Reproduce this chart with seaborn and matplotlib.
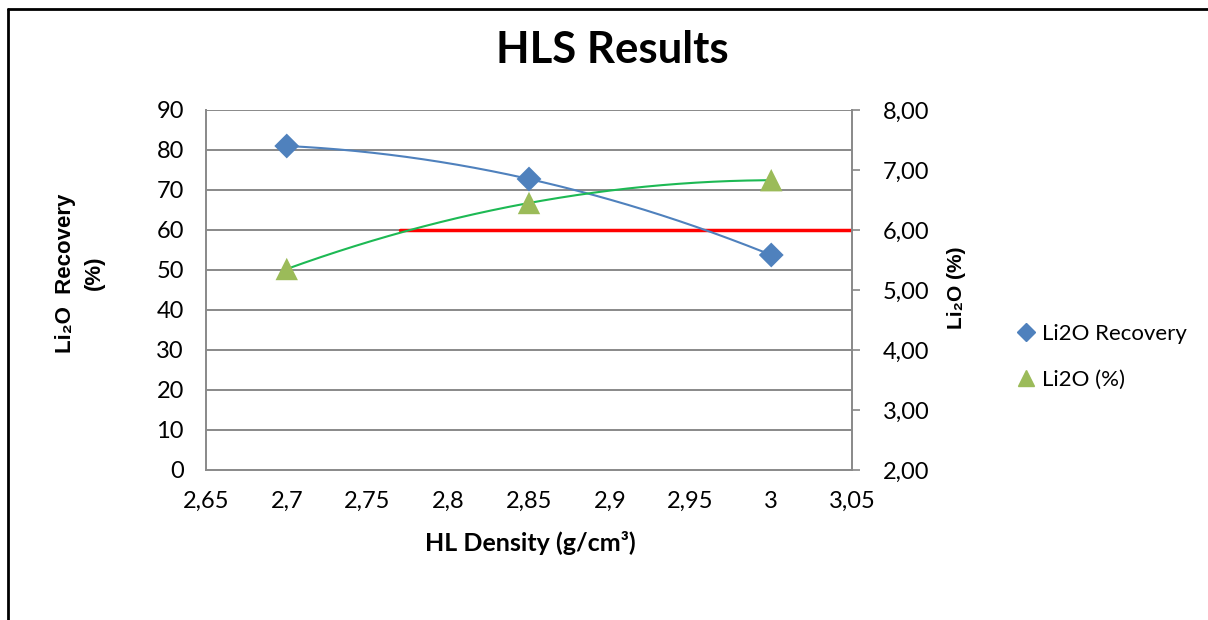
import numpy as np
import pandas as pd
import matplotlib
matplotlib.use("Agg")
import matplotlib.pyplot as plt
from matplotlib.lines import Line2D
import seaborn as sns

# Datos
densidad = [2.70, 2.85, 3.00]
recuperacion = [81.0, 72.75, 53.75]      # Li2O Recovery (eje izquierdo)
ley_li2o = [5.35, 6.45, 6.83]            # Li2O (%) (eje derecho)
umbral_x = [2.77, 3.05]
umbral_y = [60, 60]

x_ticks = [2.65, 2.70, 2.75, 2.80, 2.85, 2.90, 2.95, 3.00, 3.05]
x_labels = ['2,65', '2,7', '2,75', '2,8', '2,85', '2,9', '2,95', '3', '3,05']
y1_ticks = [0, 10, 20, 30, 40, 50, 60, 70, 80, 90]
y2_ticks = [2, 3, 4, 5, 6, 7, 8]
y2_labels = ['2,00', '3,00', '4,00', '5,00', '6,00', '7,00', '8,00']

AZUL = '#4F81BD'
VERDE_LINEA = '#1DB954'
VERDE_MARCA = '#9BBB59'
GRIS = '#898989'

sns.set_style('white')
plt.rcParams['font.family'] = ['Lato', 'DejaVu Sans']
plt.rcParams['text.color'] = 'black'
plt.rcParams['axes.labelcolor'] = 'black'
plt.rcParams['xtick.color'] = 'black'
plt.rcParams['ytick.color'] = 'black'

# curva suavizada (solo para el trazo, como el "smoothed line" de Excel)
def suavizar(x, y):
    coef = np.polyfit(x, y, 2)
    xs = np.linspace(x[0], x[-1], 200)
    return pd.DataFrame({'x': xs, 'y': np.polyval(coef, xs)})

df_rec = pd.DataFrame({'x': densidad, 'y': recuperacion})
df_ley = pd.DataFrame({'x': densidad, 'y': ley_li2o})

fig = plt.figure(figsize=(12.08, 6.2), dpi=100)
ax = fig.add_axes([206 / 1208, 1 - 470 / 620, (852 - 206) / 1208, 360 / 620])
ax2 = ax.twinx()

# rejilla y ejes
ax.set_xlim(2.65, 3.05)
ax.set_ylim(0, 90)
ax2.set_ylim(2, 8)
ax.set_yticks(y1_ticks)
ax.set_xticks(x_ticks)
ax.set_xticklabels(x_labels)
ax2.set_yticks(y2_ticks)
ax2.set_yticklabels(y2_labels)
for yv in y1_ticks[1:]:
    ax.axhline(yv, color=GRIS, lw=1.4, zorder=0)

for a in (ax, ax2):
    for s in a.spines.values():
        s.set_visible(False)
ax.spines['left'].set_visible(True)
ax.spines['bottom'].set_visible(True)
ax2.spines['right'].set_visible(True)
for s in (ax.spines['left'], ax.spines['bottom'], ax2.spines['right']):
    s.set_color(GRIS)
    s.set_linewidth(1.4)

ax.tick_params(axis='both', length=0, labelsize=17, labelcolor='black')
ax.tick_params(axis='y', pad=16)
ax.tick_params(axis='x', pad=15)
ax2.tick_params(axis='y', length=6, width=1.2, color=GRIS, direction='out',
                labelsize=17, labelcolor='black', pad=16, right=True)

# umbral rojo
sns.lineplot(x=umbral_x, y=umbral_y, ax=ax, color='#FF0000', lw=2.5, zorder=3)

# Li2O Recovery
sns.lineplot(data=suavizar(densidad, recuperacion), x='x', y='y', ax=ax,
             color=AZUL, lw=1.5, zorder=4)
sns.scatterplot(data=df_rec, x='x', y='y', ax=ax, marker='D', s=160,
                color=AZUL, edgecolor='none', zorder=5)

# Li2O (%)
sns.lineplot(data=suavizar(densidad, ley_li2o), x='x', y='y', ax=ax2,
             color=VERDE_LINEA, lw=1.5, zorder=4)
sns.scatterplot(data=df_ley, x='x', y='y', ax=ax2, marker='^', s=260,
                color=VERDE_MARCA, edgecolor='none', zorder=5)

ax.set_xlabel('')
ax.set_ylabel('')
ax2.set_xlabel('')
ax2.set_ylabel('')

# textos
fig.text(612 / 1208, 1 - 50 / 620, 'HLS Results', fontsize=31.5, fontweight='bold',
         ha='center', va='center')
fig.text(530 / 1208, 1 - 543 / 620, 'HL Density (g/cm³)', fontsize=18, fontweight='bold',
         ha='center', va='center')
fig.text(80 / 1208, 1 - 273 / 620, 'Li₂O  Recovery\n(%)', fontsize=16, fontweight='bold',
         rotation=90, ha='center', va='center', linespacing=1.45,
         family=['Liberation Sans', 'DejaVu Sans'])
fig.text(956 / 1208, 1 - 288 / 620, 'Li₂O (%)', fontsize=15, fontweight='bold',
         rotation=90, ha='center', va='center',
         family=['Liberation Sans', 'DejaVu Sans'])

# leyenda
handles = [
    Line2D([], [], marker='D', color=AZUL, ls='none', markersize=9, label='Li2O Recovery'),
    Line2D([], [], marker='^', color=VERDE_MARCA, ls='none', markersize=11, label='Li2O (%)'),
]
fig.legend(handles=handles, loc='center left', bbox_to_anchor=(1008 / 1208, 1 - 357 / 620),
           frameon=False, fontsize=16, handlelength=0.8, handletextpad=0.35,
           labelspacing=1.15, borderaxespad=0)

# marco exterior
fig.add_artist(Line2D([8 / 1208, 8 / 1208], [0, 1 - 9 / 620], color='black', lw=2,
                      transform=fig.transFigure))
fig.add_artist(Line2D([8 / 1208, 1], [1 - 9 / 620, 1 - 9 / 620], color='black', lw=2,
                      transform=fig.transFigure))

fig.savefig('out.png', dpi=100)
